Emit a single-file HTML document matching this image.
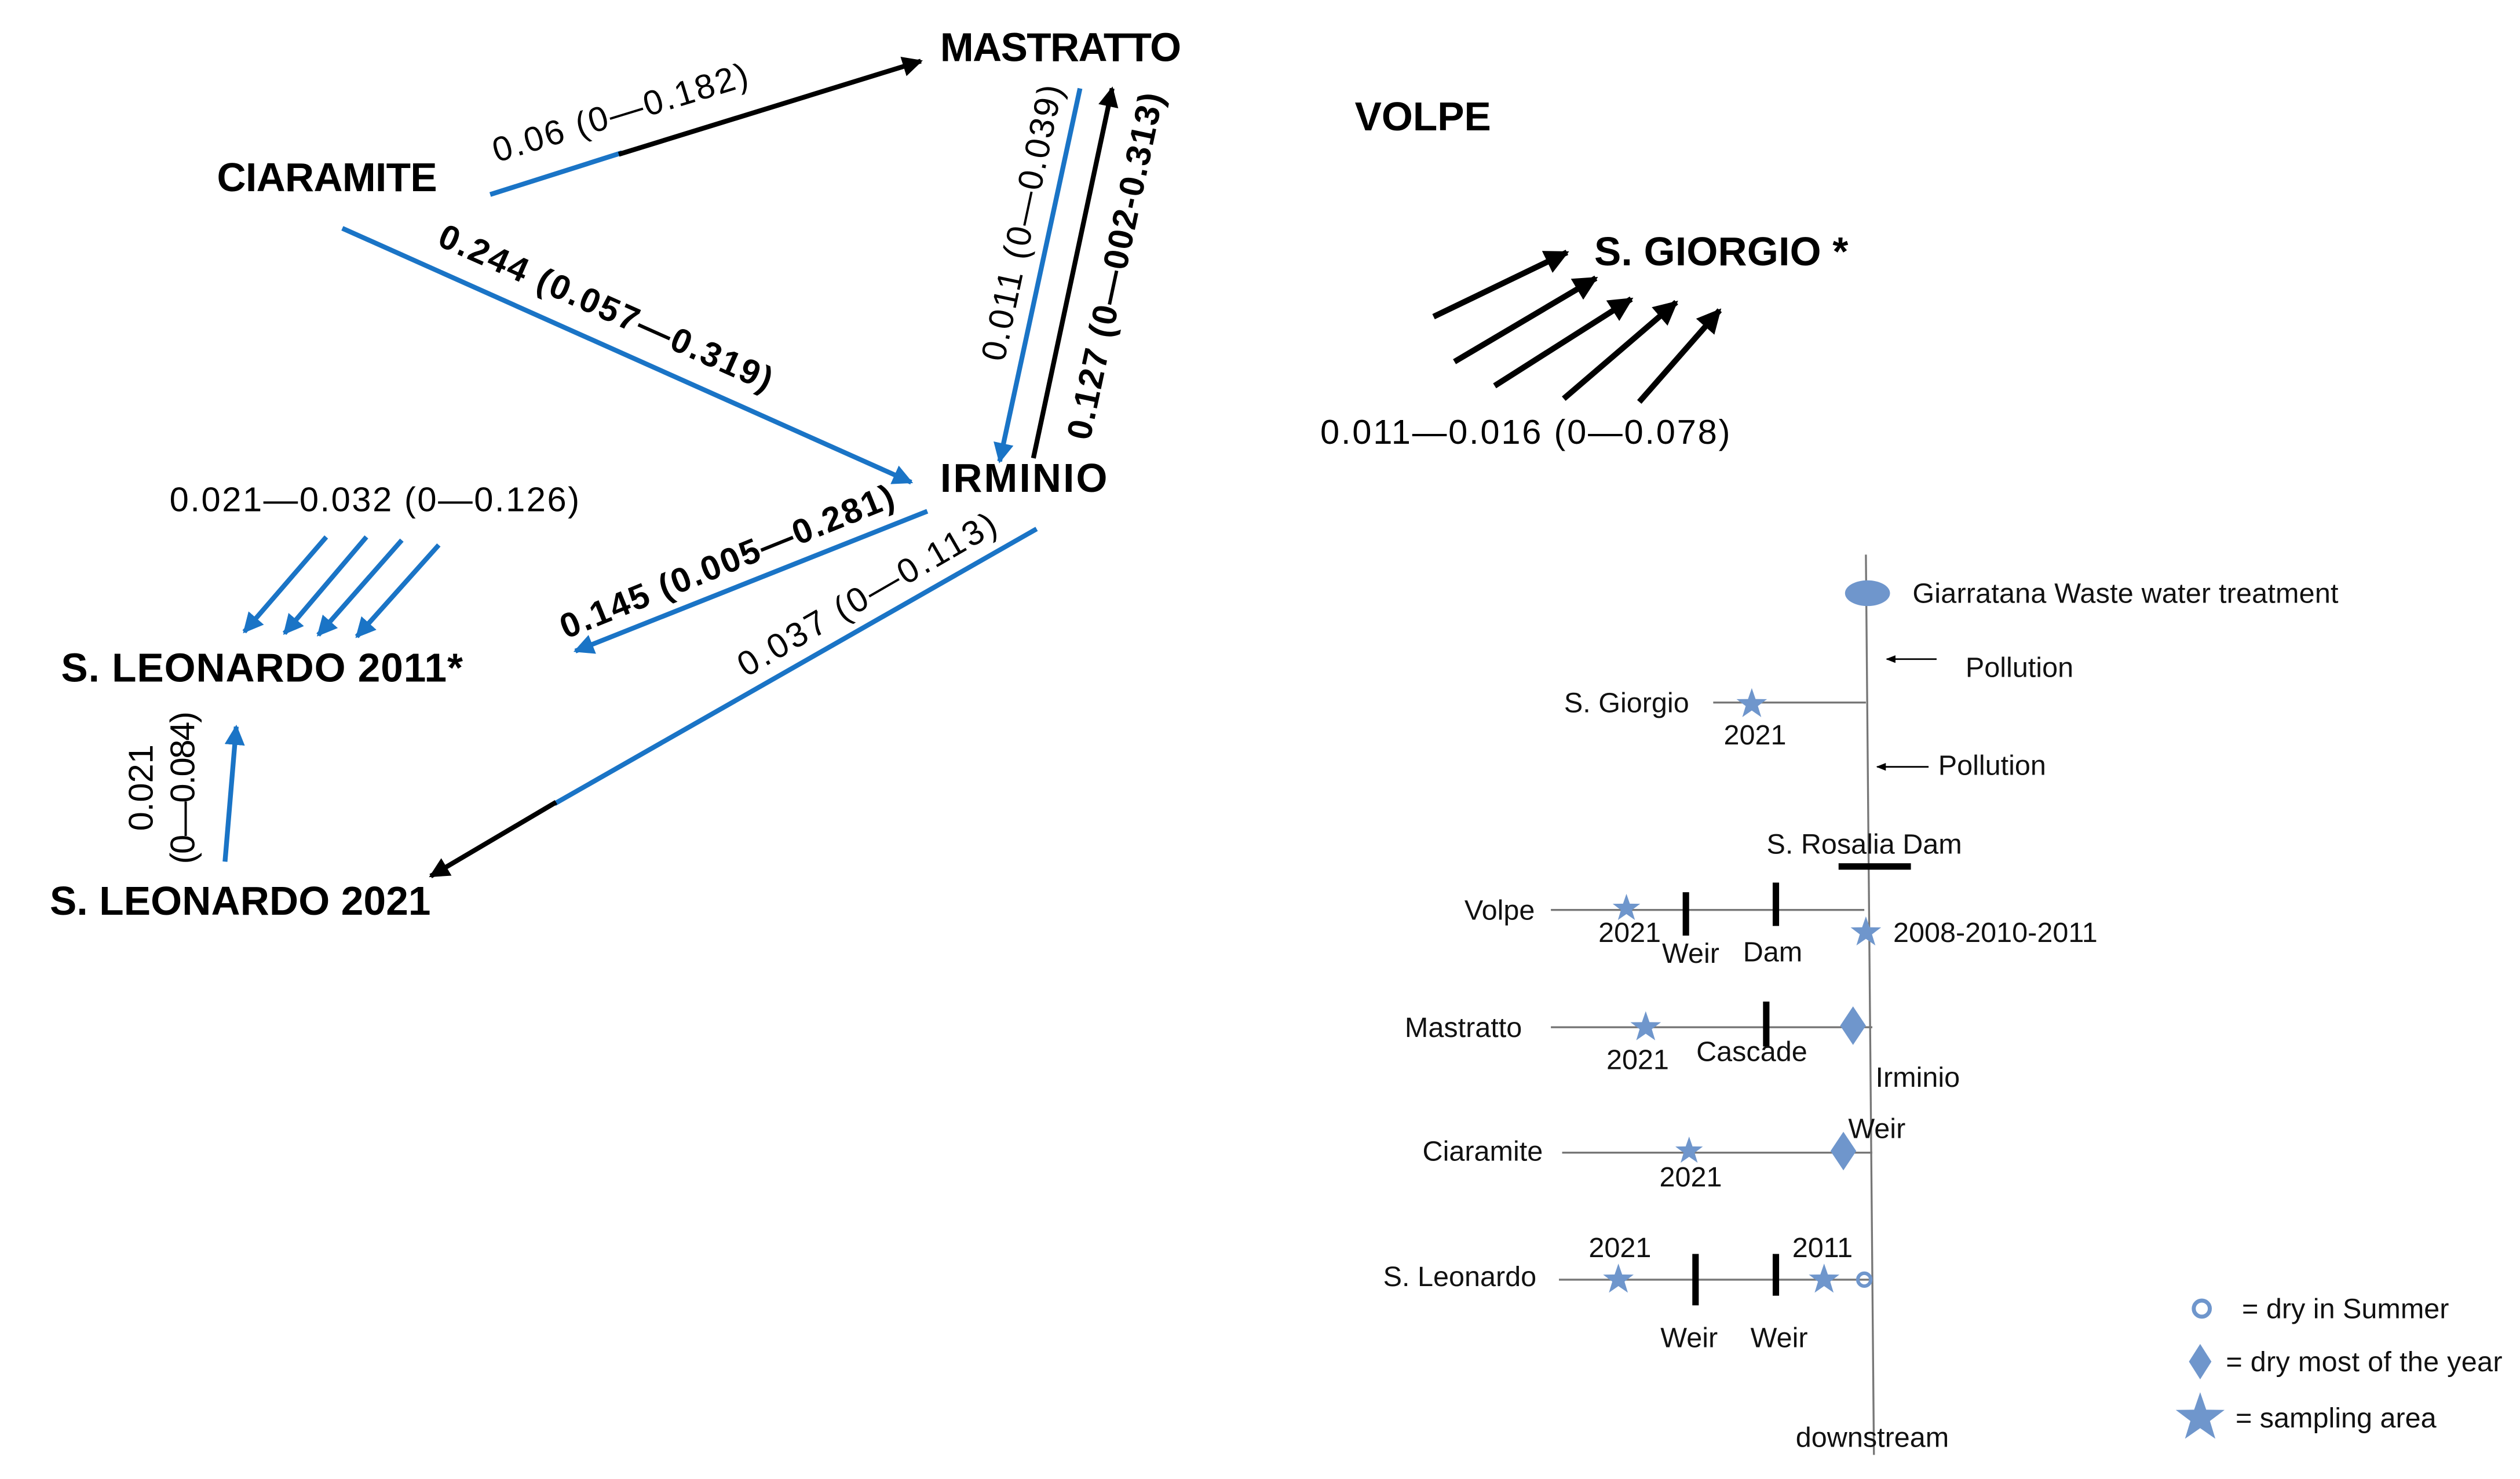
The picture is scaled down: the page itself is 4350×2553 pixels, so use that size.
<!DOCTYPE html>
<html><head><meta charset="utf-8"><style>
html,body{margin:0;padding:0;background:#fff;}
svg{display:block;}
text{font-family:"Liberation Sans",sans-serif;}
.n{font-weight:bold;font-size:25px;}
.e{font-size:21.5px;}
.eb{font-size:21.5px;font-weight:bold;}
.r{font-size:17.5px;fill:#111;}
</style></head><body>
<svg width="4350" height="2553" viewBox="0 0 1568 920" preserveAspectRatio="none" xmlns="http://www.w3.org/2000/svg">
<defs>
<marker id="ab" viewBox="0 0 10 10" refX="9" refY="5" markerWidth="4.2" markerHeight="4.2" orient="auto" markerUnits="strokeWidth"><path d="M0,0 L10,5 L0,10 z" fill="#000"/></marker>
<marker id="abl" viewBox="0 0 10 10" refX="9" refY="5" markerWidth="4.2" markerHeight="4.2" orient="auto" markerUnits="strokeWidth"><path d="M0,0 L10,5 L0,10 z" fill="#1a74c6"/></marker>
<marker id="as" viewBox="0 0 10 10" refX="9" refY="5" markerWidth="6" markerHeight="6" orient="auto" markerUnits="strokeWidth"><path d="M0,1 L10,5 L0,9 z" fill="#000"/></marker>
<symbol id="st" viewBox="-10 -10 20 20"><polygon points="0,-10 2.35,-3.2 9.5,-3.1 3.8,1.2 5.9,8.1 0,4 -5.9,8.1 -3.8,1.2 -9.5,-3.1 -2.35,-3.2" fill="#6f96cc"/></symbol>
</defs>

<text class="n" x="585" y="38" textLength="150">MASTRATTO</text>
<text class="n" x="135" y="119" textLength="137">CIARAMITE</text>
<text class="n" x="843" y="81">VOLPE</text>
<text class="n" x="992" y="165" textLength="158">S. GIORGIO *</text>
<text class="n" x="585" y="306" textLength="104">IRMINIO</text>
<text class="n" x="38" y="424" textLength="250">S. LEONARDO 2011*</text>
<text class="n" x="31" y="569" textLength="237">S. LEONARDO 2021</text>

<g stroke-width="3" fill="none">
<line x1="305" y1="121" x2="387" y2="95" stroke="#1a74c6"/>
<line x1="385" y1="96" x2="573" y2="38" stroke="#000" marker-end="url(#ab)"/>
<line x1="213" y1="142" x2="567" y2="300" stroke="#1a74c6" marker-end="url(#abl)"/>
<line x1="672" y1="55" x2="622" y2="287" stroke="#1a74c6" marker-end="url(#abl)"/>
<line x1="643" y1="285" x2="692" y2="55" stroke="#000" marker-end="url(#ab)"/>
<line x1="577" y1="318" x2="358" y2="405" stroke="#1a74c6" marker-end="url(#abl)"/>
<line x1="645" y1="329" x2="345" y2="500" stroke="#1a74c6"/>
<line x1="346" y1="499" x2="268" y2="545" stroke="#000" marker-end="url(#ab)"/>
<line x1="203" y1="334" x2="152" y2="393" stroke="#1a74c6" marker-end="url(#abl)"/>
<line x1="228" y1="334" x2="177" y2="394" stroke="#1a74c6" marker-end="url(#abl)"/>
<line x1="250" y1="336" x2="198" y2="395" stroke="#1a74c6" marker-end="url(#abl)"/>
<line x1="273" y1="339" x2="222" y2="396" stroke="#1a74c6" marker-end="url(#abl)"/>
<line x1="140" y1="536" x2="147" y2="452" stroke="#1a74c6" marker-end="url(#abl)"/>
</g>
<g stroke-width="3.6" fill="none" stroke="#000">
<line x1="892" y1="197" x2="975" y2="157" marker-end="url(#ab)"/>
<line x1="905" y1="225" x2="993" y2="173" marker-end="url(#ab)"/>
<line x1="930" y1="240" x2="1015" y2="186" marker-end="url(#ab)"/>
<line x1="973" y1="248" x2="1043" y2="188" marker-end="url(#ab)"/>
<line x1="1020" y1="250" x2="1070" y2="193" marker-end="url(#ab)"/>
</g>

<text class="e" transform="translate(388,77) rotate(-17)" text-anchor="middle" textLength="165">0.06 (0—0.182)</text>
<text class="eb" transform="translate(374,198) rotate(24)" text-anchor="middle" textLength="225">0.244 (0.057—0.319)</text>
<text class="e" transform="translate(643,140) rotate(-78)" text-anchor="middle" textLength="175">0.011 (0—0.039)</text>
<text class="eb" transform="translate(701,167) rotate(-78)" text-anchor="middle" textLength="220">0.127 (0—002-0.313)</text>
<text class="eb" transform="translate(455,356) rotate(-22)" text-anchor="middle" textLength="222">0.145 (0.005—0.281)</text>
<text class="e" transform="translate(543,376) rotate(-30)" text-anchor="middle" textLength="182">0.037 (0—0.113)</text>
<text class="e" x="233" y="318" text-anchor="middle" textLength="255">0.021—0.032 (0—0.126)</text>
<text class="e" transform="translate(95,490) rotate(-90)" text-anchor="middle">0.021</text>
<text class="e" transform="translate(121,490) rotate(-90)" text-anchor="middle" textLength="95">(0—0.084)</text>
<text class="e" x="949" y="276" text-anchor="middle" textLength="255">0.011—0.016 (0—0.078)</text>

<g stroke="#777" stroke-width="1.2">
<line x1="1161" y1="345" x2="1166" y2="905"/>
<line x1="1066" y1="437" x2="1161" y2="437"/>
<line x1="965" y1="566" x2="1160" y2="566"/>
<line x1="965" y1="639" x2="1165" y2="639"/>
<line x1="972" y1="717" x2="1165" y2="717"/>
<line x1="970" y1="796" x2="1165" y2="796"/>
</g>
<ellipse cx="1162" cy="369" rx="14" ry="8" fill="#6f96cc"/>
<text class="r" x="1190" y="375" textLength="265">Giarratana Waste water treatment</text>
<line x1="1205" y1="410" x2="1174" y2="410" stroke="#000" stroke-width="1" marker-end="url(#as)"/>
<text class="r" x="1223" y="421">Pollution</text>
<line x1="1200" y1="477" x2="1168" y2="477" stroke="#000" stroke-width="1" marker-end="url(#as)"/>
<text class="r" x="1206" y="482">Pollution</text>

<text class="r" x="1051" y="443" text-anchor="end">S. Giorgio</text>
<use href="#st" x="1080" y="428" width="20" height="20"/>
<text class="r" x="1092" y="463" text-anchor="middle">2021</text>

<text class="r" x="1160" y="531" text-anchor="middle">S. Rosalia Dam</text>
<line x1="1144" y1="539" x2="1189" y2="539" stroke="#000" stroke-width="4"/>

<text class="r" x="955" y="572" text-anchor="end">Volpe</text>
<use href="#st" x="1003" y="556" width="18" height="18"/>
<text class="r" x="1014" y="586" text-anchor="middle">2021</text>
<line x1="1049" y1="555" x2="1049" y2="582" stroke="#000" stroke-width="4"/>
<text class="r" x="1052" y="599" text-anchor="middle">Weir</text>
<line x1="1105" y1="549" x2="1105" y2="576" stroke="#000" stroke-width="4"/>
<text class="r" x="1103" y="598" text-anchor="middle">Dam</text>
<use href="#st" x="1151" y="570" width="20" height="20"/>
<text class="r" x="1178" y="586">2008-2010-2011</text>

<text class="r" x="947" y="645" text-anchor="end">Mastratto</text>
<use href="#st" x="1014" y="629" width="20" height="20"/>
<text class="r" x="1019" y="665" text-anchor="middle">2021</text>
<line x1="1099" y1="623" x2="1099" y2="651" stroke="#000" stroke-width="4"/>
<text class="r" x="1090" y="660" text-anchor="middle">Cascade</text>
<polygon points="1153,626 1161,638 1153,650 1145,638" fill="#6f96cc"/>
<text class="r" x="1167" y="676">Irminio</text>

<text class="r" x="960" y="722" text-anchor="end">Ciaramite</text>
<use href="#st" x="1042" y="707" width="18" height="18"/>
<text class="r" x="1052" y="738" text-anchor="middle">2021</text>
<polygon points="1147,704 1155,716 1147,728 1139,716" fill="#6f96cc"/>
<text class="r" x="1150" y="708">Weir</text>

<text class="r" x="956" y="800" text-anchor="end">S. Leonardo</text>
<use href="#st" x="997" y="786" width="20" height="20"/>
<text class="r" x="1008" y="782" text-anchor="middle">2021</text>
<line x1="1055" y1="780" x2="1055" y2="812" stroke="#000" stroke-width="4"/>
<text class="r" x="1051" y="838" text-anchor="middle">Weir</text>
<line x1="1105" y1="780" x2="1105" y2="806" stroke="#000" stroke-width="4"/>
<text class="r" x="1107" y="838" text-anchor="middle">Weir</text>
<use href="#st" x="1125" y="786" width="20" height="20"/>
<text class="r" x="1134" y="782" text-anchor="middle">2011</text>
<circle cx="1160" cy="796" r="4" fill="none" stroke="#6f96cc" stroke-width="2.2"/>
<text class="r" x="1165" y="900" text-anchor="middle">downstream</text>

<circle cx="1370" cy="814" r="5" fill="none" stroke="#6f96cc" stroke-width="2.5"/>
<text class="r" x="1395" y="820">= dry in Summer</text>
<polygon points="1369,836 1376,847 1369,858 1362,847" fill="#6f96cc"/>
<text class="r" x="1385" y="853" textLength="172">= dry most of the year</text>
<use href="#st" x="1353" y="866" width="32" height="32"/>
<text class="r" x="1391" y="888">= sampling area</text>
</svg>
</body></html>
